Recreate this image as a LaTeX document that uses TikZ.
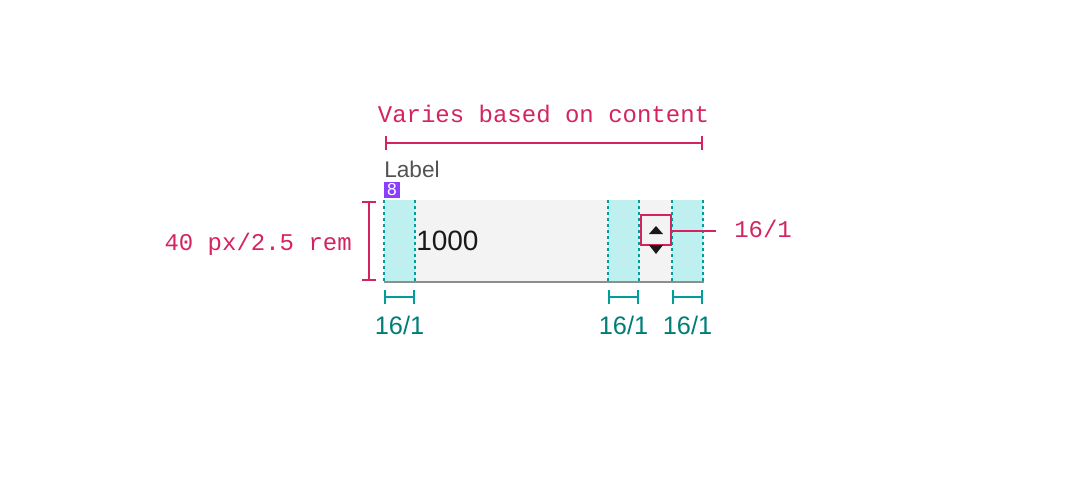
\documentclass[tikz,border=0pt]{standalone}
\usepackage{fontspec}
\setmainfont{Liberation Sans}
\setmonofont{Liberation Mono}
\usetikzlibrary{arrows.meta, positioning}

\definecolor{specmag}{HTML}{D4245F}
\definecolor{specteal}{HTML}{009D9A}
\definecolor{specteal text}{HTML}{007D79}
\definecolor{padfill}{HTML}{BEF0EF}
\definecolor{fieldgray}{HTML}{F3F3F3}
\definecolor{rulegray}{HTML}{8D8D8D}
\definecolor{labelgray}{HTML}{525252}
\definecolor{tokenpurple}{HTML}{8A3FFC}

\begin{document}
\begin{tikzpicture}[
    x=0.75pt, y=-0.75pt,
    magdim/.style={draw=specmag, line width=1.5pt, {Bar[width=10.5pt]}-{Bar[width=10.5pt]}},
    tealdim/.style={draw=specteal, line width=1.5pt, {Bar[width=10.5pt]}-{Bar[width=10.5pt]}},
    magtext/.style={text=specmag, font=\ttfamily\fontsize{18pt}{20pt}\selectfont, inner sep=0pt},
    tealtext/.style={text=specteal text, font=\fontsize{19pt}{21pt}\selectfont, inner sep=0pt, anchor=base},
    padline/.style={draw=specteal, line width=1.6pt, dash pattern=on 2.6pt off 1.9pt},
    field/.style={rectangle, fill=fieldgray, minimum width=239.25pt, minimum height=60.75pt, inner sep=0pt, anchor=north west}
]
    \useasboundingbox (0,0) rectangle (1088,482);

    % Text input field
    \node[field] (field) at (384,200) {};
    \foreach \xa/\xb in {384/415, 608/639, 672/703}
        \fill[padfill] (\xa,200) rectangle (\xb,281);
    \draw[rulegray, line width=1.5pt] (field.south west) -- (field.south east);
    \foreach \xx in {384, 415, 608, 639, 672, 703}
        \draw[padline] (\xx,200) -- (\xx,281);

    % Label and spacing token
    \node[anchor=base west, inner sep=0pt, text=labelgray, font=\fontsize{17pt}{19pt}\selectfont] (label) at (384,177) {Label};
    \node[fill=tokenpurple, text=white, minimum size=11.5pt, inner sep=0pt, anchor=north west, font=\fontsize{13pt}{13pt}\selectfont] (token) at (384,182) {8};
    \node[anchor=base west, inner sep=0pt, text=black!90, font=\fontsize{21pt}{24pt}\selectfont] (value) at (416,250) {1000};

    % Stepper
    \node[draw=specmag, line width=1.5pt, minimum size=22.5pt, inner sep=0pt] (stepper) at (656,230) {};
    \fill[black!90] (649,234) -- (656,226) -- (663,234) -- cycle;
    \fill[black!90] (649,245) -- (656,254) -- (663,245) -- cycle;

    % Width dimension
    \node[magtext, anchor=base] (widthtext) at (543.5,122) {Varies based on content};
    \coordinate (wl) at (384.5,143);
    \coordinate (wr) at (703,143);
    \draw[magdim] (wl) -- (wr);

    % Height dimension
    \node[magtext, anchor=base east] (heighttext) at (352,250) {40 px/2.5 rem};
    \coordinate (ht) at (369,201);
    \coordinate (hb) at (369,281);
    \draw[magdim] (ht) -- (hb);

    % Stepper size callout
    \node[magtext, anchor=base west] (steptext) at (734,237) {16/1};
    \coordinate (stepend) at (716,231);
    \draw[specmag, line width=1.5pt] (stepper.east |- stepend) -- (stepend);

    % Padding dimensions
    \foreach \xa/\xb/\nm in {384/415/a, 608/639/b, 672/703/c} {
        \coordinate (pl\nm) at (\xa,297);
        \coordinate (pr\nm) at (\xb,297);
        \draw[tealdim] (pl\nm) -- (pr\nm);
        \node[tealtext] (pad\nm) at ({(\xa+\xb)/2},334) {16/1};
    }
\end{tikzpicture}
\end{document}
